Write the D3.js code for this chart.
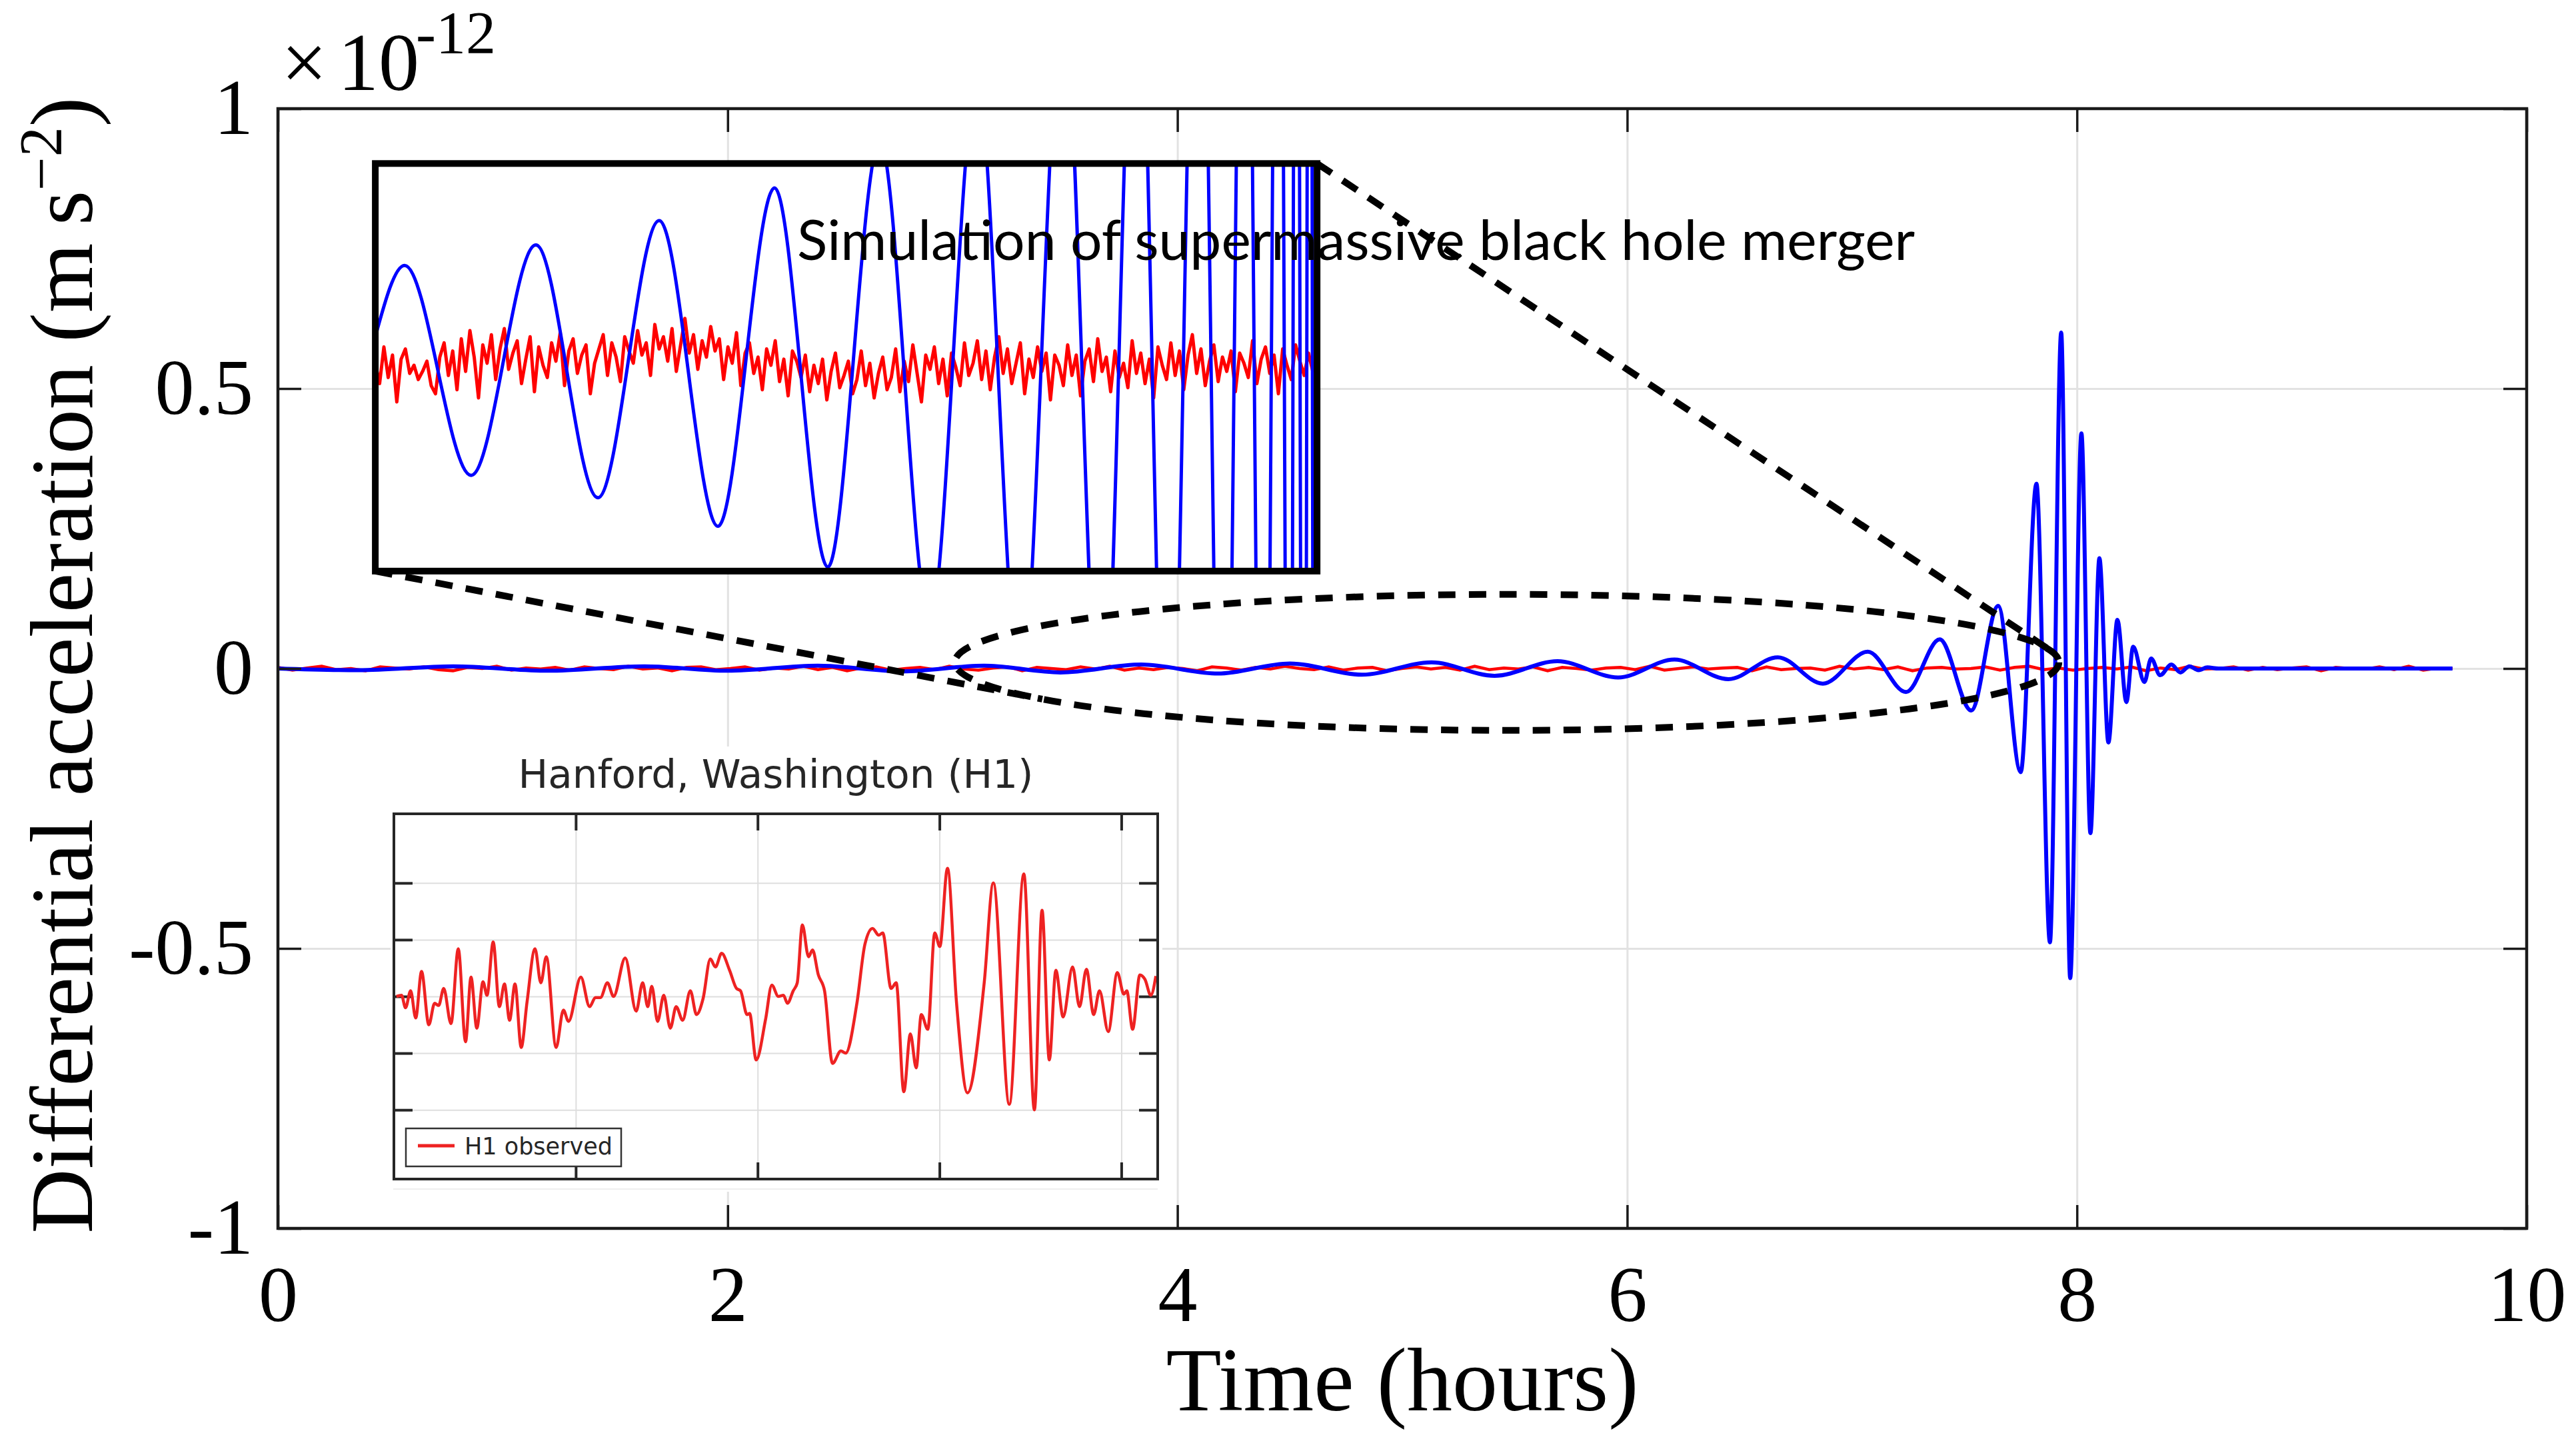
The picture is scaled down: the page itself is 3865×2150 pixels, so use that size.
<!DOCTYPE html>
<html>
<head>
<meta charset="utf-8">
<script src="https://cdn.jsdelivr.net/npm/d3@7"></script>
<style>
  html, body { margin: 0; padding: 0; background: #fff; }
  svg { display: block; }
</style>
</head>
<body>
<svg id="chart" width="3865" height="2150"></svg>
<script>
// ---------------- data ----------------
// main axes
const xTicks = [0, 2, 4, 6, 8, 10];
const xTickLabels = ["0", "2", "4", "6", "8", "10"];
const yTicks = [-1, -0.5, 0, 0.5, 1];
const yTickLabels = ["-1", "-0.5", "0", "0.5", "1"];

// simulated differential acceleration (units of 1e-12 m s^-2): turning points of the chirp
const chirpTime = [0, 0.36, 0.78, 1.20, 1.63, 2.00, 2.40, 2.78, 3.14, 3.48, 3.84, 4.18, 4.50, 4.82,
  5.13, 5.41, 5.69, 5.96, 6.21, 6.45, 6.67, 6.87, 7.07, 7.24, 7.39, 7.53, 7.65, 7.75, 7.82, 7.88,
  7.93, 7.97, 8.02, 8.06, 8.10, 8.14, 8.18, 8.22, 8.25, 8.30, 8.33, 8.37, 8.42, 8.46, 8.50, 8.54,
  8.58, 8.63, 9.67];
const chirpValue = [0, -0.003, 0.004, -0.004, 0.004, -0.004, 0.005, -0.005, 0.005, -0.007, 0.007,
  -0.009, 0.009, -0.011, 0.011, -0.013, 0.013, -0.016, 0.016, -0.019, 0.020, -0.027, 0.030, -0.042,
  0.052, -0.075, 0.112, -0.185, 0.330, -0.489, 0.600, -0.553, 0.420, -0.294, 0.197, -0.132, 0.087,
  -0.060, 0.039, -0.024, 0.018, -0.012, 0.007, -0.007, 0.004, -0.003, 0.002, 0, 0];

// background residual (same units), evenly sampled over the record
const residualStart = 0, residualEnd = 9.67;
const residualValue = [
  0.002,-0.003,0.001,0.004,-0.002,0.000,-0.004,0.003,0.001,-0.001,
  0.003,-0.002,-0.004,0.002,0.000,0.004,-0.003,0.001,-0.001,0.002,
  -0.003,0.003,0.000,-0.002,0.004,-0.001,0.001,-0.004,0.002,0.003,
  -0.002,0.000,0.003,-0.003,0.001,-0.001,0.004,-0.002,0.002,-0.004,
  0.001,0.003,-0.003,0.000,0.002,-0.002,0.004,-0.001,-0.003,0.001,
  0.003,-0.004,0.002,0.000,-0.002,0.003,-0.001,0.004,-0.003,0.001,
  -0.002,0.002,0.000,-0.004,0.003,0.001,-0.003,0.002,-0.001,0.004,
  0.000,-0.002,0.003,-0.003,0.001,0.002,-0.004,0.000,0.003,-0.001,
  0.002,-0.003,0.004,-0.002,0.001,-0.001,0.003,-0.004,0.002,0.000,
  -0.003,0.001,0.002,-0.002,0.004,-0.003,0.000,0.003,-0.001,0.001,
  0.002,-0.004,0.003,-0.002,0.000,0.001,-0.003,0.004,-0.001,0.002,
  -0.002,0.003,-0.004,0.001,0.002,-0.001,0.000,0.003,-0.003,0.002,
  0.004,-0.002,0.001,-0.003,0.000,0.002,-0.001,0.003,-0.004,0.001,
  -0.002,0.004,-0.001,0.000,0.003,-0.003,0.002,-0.002,0.001,0.003,
  -0.004,0.002,0.000,-0.001,0.003,-0.002,0.004,-0.003,0.001,0.000];

// highlighted stretch of the record (hours, 1e-12 m s^-2)
const zoomCenter = [5.465, 0.011];
const zoomRadius = [2.455, 0.1215];
// magnified panel placement (hours, 1e-12 m s^-2)
const panelTime = [0.433, 4.621];
const panelValue = [0.174, 0.902];

// magnified chirp (panel units)
const panelDomainTime = [3.0, 7.92];
const panelDomainValue = [-1, 1];
const panelChirpTime = [3.000, 3.153, 3.501, 3.839, 4.163, 4.483, 4.790, 5.086, 5.364, 5.636,
  5.897, 6.144, 6.371, 6.594, 6.796, 6.980, 7.144, 7.304, 7.433, 7.544, 7.642, 7.722, 7.777,
  7.812, 7.851, 7.882, 7.910, 7.935];
const panelChirpValue = [0.15, 0.50, -0.53, 0.60, -0.64, 0.72, -0.78, 0.88, -0.98, 1.11, -1.25,
  1.40, -1.60, 1.80, -2.00, 2.30, -2.60, 2.90, -3.20, 3.50, -3.80, 4.10, -4.40, 4.70, -5.00,
  5.30, -5.60, 5.90];
const panelNoise = [
  0.02,-0.08,0.10,-0.05,0.06,-0.17,0.04,0.09,-0.03,0.01,-0.06,-0.02,0.03,-0.09,-0.13,0.05,0.12,-0.04,0.08,-0.11,
  0.14,-0.02,0.18,0.05,-0.15,0.11,0.02,0.16,-0.06,0.09,0.19,-0.01,0.07,0.13,-0.08,0.04,0.15,-0.12,0.10,0.01,
  -0.05,0.12,0.03,0.17,-0.09,0.08,0.14,-0.03,0.06,0.11,-0.13,0.02,0.09,0.16,-0.04,0.12,0.05,-0.07,0.15,0.08,
  0.02,0.18,0.06,0.12,-0.04,0.21,0.09,0.15,0.03,0.19,-0.02,0.11,0.24,0.07,0.16,-0.01,0.13,0.05,0.20,0.08,
  0.14,-0.06,0.10,0.02,0.17,-0.09,0.07,0.12,-0.03,0.05,-0.11,0.09,0.01,0.13,-0.07,0.04,-0.14,0.08,0.03,-0.05,
  0.06,-0.12,0.01,-0.08,0.04,-0.16,-0.02,0.07,-0.10,-0.04,0.03,-0.13,-0.06,0.08,-0.09,0.02,-0.15,-0.03,0.05,-0.11,
  -0.05,0.09,-0.12,0.03,-0.07,0.11,-0.03,-0.17,0.06,-0.01,0.10,-0.08,0.04,-0.14,0.07,0.00,-0.09,0.12,-0.04,0.02,
  0.13,-0.06,0.08,-0.11,0.05,0.15,-0.03,0.09,-0.08,0.02,0.12,-0.13,0.04,-0.05,0.10,-0.02,0.07,-0.16,0.06,0.01,
  -0.09,0.11,-0.04,0.06,-0.14,0.03,0.09,-0.07,0.14,-0.02,0.05,-0.12,0.08,-0.05,0.02,-0.10,0.13,-0.03,0.07,-0.08,
  0.04,-0.15,0.10,0.01,-0.06,0.12,-0.04,0.08,-0.11,0.06,0.16,-0.03,0.09,-0.09,0.03,0.11,-0.07,0.05,-0.02,0.08,
  -0.12,0.07,0.02,-0.05,0.13,-0.08,0.04,0.10,-0.03,0.06,-0.13,0.09,0.01,-0.06,0.11,0.03,-0.04,0.07,-0.02,0.05];

// Hanford H1 strain (time in s, strain in 1e-21)
const h1Domain = [0.25, 0.46];
const h1StrainDomain = [-1.61, 1.61];
const h1TimeTicks = [0.30, 0.35, 0.40, 0.45];
const h1StrainTicks = [-1.0, -0.5, 0.0, 0.5, 1.0];
const h1Time = [0.2507,0.2521,0.2532,0.2546,0.2560,0.2576,0.2596,0.2612,0.2623,0.2637,0.2657,0.2677,
  0.2697,0.2712,0.2728,0.2745,0.2756,0.2773,0.2790,0.2804,0.2818,0.2833,0.2850,0.2866,0.2888,0.2904,
  0.2919,0.2946,0.2966,0.2980,0.3014,0.3038,0.3054,0.3068,0.3087,0.3104,0.3136,0.3166,0.3184,0.3198,
  0.3209,0.3225,0.3242,0.3260,0.3276,0.3294,0.3315,0.3332,0.3350,0.3370,0.3384,0.3401,0.3423,0.3442,
  0.3453,0.3471,0.3478,0.3496,0.3522,0.3539,0.3557,0.3571,0.3582,0.3598,0.3609,0.3623,0.3640,0.3651,
  0.3667,0.3684,0.3706,0.3729,0.3742,0.3773,0.3795,0.3816,0.3833,0.3844,0.3867,0.3881,0.3902,0.3920,
  0.3936,0.3950,0.3968,0.3987,0.4001,0.4022,0.4047,0.4077,0.4123,0.4148,0.4192,0.4232,0.4261,0.4282,
  0.4302,0.4320,0.4340,0.4366,0.4385,0.4404,0.4424,0.4440,0.4464,0.4489,0.4507,0.4515,0.4531,0.4551,
  0.4565,0.4581,0.4595];
const h1Strain = [0.00,0.01,-0.10,0.05,-0.19,0.22,-0.25,-0.06,-0.08,0.07,-0.24,0.42,
  -0.40,0.17,-0.28,0.13,0.01,0.48,-0.09,0.11,-0.21,0.11,-0.45,-0.05,0.42,0.12,
  0.35,-0.45,-0.12,-0.22,0.17,-0.09,-0.01,-0.01,0.12,0.00,0.34,-0.13,0.12,-0.09,
  0.09,-0.22,0.01,-0.28,-0.09,-0.21,0.05,-0.16,-0.02,0.33,0.26,0.38,0.23,0.07,
  0.05,-0.16,-0.15,-0.56,-0.20,0.10,0.00,0.01,-0.06,0.05,0.12,0.63,0.35,0.41,
  0.19,0.05,-0.59,-0.48,-0.50,-0.06,0.46,0.60,0.54,0.56,0.07,0.12,-0.84,-0.33,
  -0.63,-0.16,-0.29,0.56,0.44,1.13,-0.06,-0.85,0.12,1.00,-0.95,1.08,-1.00,0.76,
  -0.56,0.23,-0.18,0.26,-0.09,0.24,-0.16,0.05,-0.31,0.21,0.02,0.05,-0.29,0.19,
  0.15,0.01,0.18];

// ---------------- layout ----------------
const svg = d3.select("#chart");
const W = 3865, H = 2150;
const plot = { left: 417, right: 3791, top: 163, bottom: 1843 };
const serif = "'Liberation Serif', 'Times New Roman', serif";
const sans = "'DejaVu Sans', sans-serif";

svg.append("rect").attr("width", W).attr("height", H).attr("fill", "#fff");

const x = d3.scaleLinear().domain([0, 10]).range([plot.left, plot.right]);
const y = d3.scaleLinear().domain([-1, 1]).range([plot.bottom, plot.top]);

// grid
svg.append("g")
  .attr("transform", `translate(0,${plot.bottom})`)
  .call(d3.axisBottom(x).tickValues(xTicks).tickSize(-(plot.bottom - plot.top)).tickFormat(""))
  .call(g => g.select(".domain").remove())
  .call(g => g.selectAll("line").attr("stroke", "#e2e2e2").attr("stroke-width", 3));
svg.append("g")
  .attr("transform", `translate(${plot.left},0)`)
  .call(d3.axisLeft(y).tickValues(yTicks).tickSize(-(plot.right - plot.left)).tickFormat(""))
  .call(g => g.select(".domain").remove())
  .call(g => g.selectAll("line").attr("stroke", "#e2e2e2").attr("stroke-width", 3));

// traces
const residual = residualValue.map((v, i) => [
  residualStart + (residualEnd - residualStart) * i / (residualValue.length - 1), v]);
const chirp = chirpTime.map((t, i) => [t, chirpValue[i]]);

svg.append("path")
  .datum(residual)
  .attr("fill", "none").attr("stroke", "#ff0000").attr("stroke-width", 4.5)
  .attr("d", d3.line().x(d => x(d[0])).y(d => y(d[1])));
svg.append("path")
  .datum(chirp)
  .attr("fill", "none").attr("stroke", "#0000ff").attr("stroke-width", 6)
  .attr("stroke-linejoin", "round")
  .attr("d", d3.line().x(d => x(d[0])).y(d => y(d[1])).curve(d3.curveMonotoneX));

// axes ticks on all four sides (pointing inward)
const tickLen = 35;
const styleAxis = g => {
  g.select(".domain").remove();
  g.selectAll(".tick line").attr("stroke", "#1a1a1a").attr("stroke-width", 3.5);
  g.selectAll("text").attr("font-family", serif).attr("font-size", 118).attr("fill", "#000");
};
svg.append("g")
  .attr("transform", `translate(0,${plot.bottom})`)
  .call(d3.axisBottom(x).tickValues(xTicks).tickSize(-tickLen).tickPadding(55)
    .tickFormat((d, i) => xTickLabels[i]))
  .call(styleAxis);
svg.append("g")
  .attr("transform", `translate(0,${plot.top})`)
  .call(d3.axisTop(x).tickValues(xTicks).tickSize(-tickLen).tickFormat(""))
  .call(styleAxis);
svg.append("g")
  .attr("transform", `translate(${plot.left},0)`)
  .call(d3.axisLeft(y).tickValues(yTicks).tickSize(-tickLen).tickPadding(37)
    .tickFormat((d, i) => yTickLabels[i]))
  .call(styleAxis);
svg.append("g")
  .attr("transform", `translate(${plot.right},0)`)
  .call(d3.axisRight(y).tickValues(yTicks).tickSize(-tickLen).tickFormat(""))
  .call(styleAxis);

// frame
svg.append("rect")
  .attr("x", plot.left).attr("y", plot.top)
  .attr("width", plot.right - plot.left).attr("height", plot.bottom - plot.top)
  .attr("fill", "none").attr("stroke", "#1a1a1a").attr("stroke-width", 4.5);

// exponent
const expo = svg.append("g").attr("font-family", serif).attr("fill", "#000");
expo.append("text").attr("x", 422).attr("y", 135).attr("font-size", 122).text("\u00d7");
expo.append("text").attr("x", 507).attr("y", 135).attr("font-size", 122).text("10");
expo.append("text").attr("x", 624).attr("y", 80).attr("font-size", 90).text("-12");

// axis titles
svg.append("text")
  .attr("x", (plot.left + plot.right) / 2).attr("y", 2116)
  .attr("text-anchor", "middle").attr("font-family", serif).attr("font-size", 136)
  .text("Time (hours)");
const ylab = svg.append("text")
  .attr("transform", `translate(138,998) rotate(-90)`)
  .attr("text-anchor", "middle").attr("font-family", serif).attr("font-size", 134);
ylab.append("tspan").text("Differential acceleration (m\u2009s");
ylab.append("tspan").attr("dy", -46).attr("font-size", 90).text("\u22122");
ylab.append("tspan").attr("dy", 46).text(")");

// ---------------- magnified panel ----------------
const fx0 = x(panelTime[0]), fx1 = x(panelTime[1]);
const fy0 = y(panelValue[1]), fy1 = y(panelValue[0]);

// dashed highlight ellipse + connector lines (tangent to the ellipse)
const ecx = x(zoomCenter[0]), ecy = y(zoomCenter[1]);
const erx = x(zoomCenter[0] + zoomRadius[0]) - ecx;
const ery = ecy - y(zoomCenter[1] + zoomRadius[1]);
function tangentPoints(px, py) {
  const u = (px - ecx) / erx, w = (py - ecy) / ery;
  const r = Math.hypot(u, w), phi = Math.atan2(w, u), a = Math.acos(1 / r);
  return [phi + a, phi - a].map(t => [ecx + erx * Math.cos(t), ecy + ery * Math.sin(t)]);
}
const lowerTan = tangentPoints(fx0, fy1).sort((a, b) => b[1] - a[1])[0];
const upperTan = tangentPoints(fx1, fy0).sort((a, b) => b[0] - a[0])[0];

const dash = svg.append("g").attr("fill", "none").attr("stroke", "#000")
  .attr("stroke-width", 10).attr("stroke-dasharray", "26 20");
dash.append("ellipse").attr("cx", ecx).attr("cy", ecy).attr("rx", erx).attr("ry", ery);
dash.append("line").attr("x1", fx0).attr("y1", fy1).attr("x2", lowerTan[0]).attr("y2", lowerTan[1]);
dash.append("line").attr("x1", fx1).attr("y1", fy0).attr("x2", upperTan[0]).attr("y2", upperTan[1]);

// panel body
svg.append("rect").attr("x", fx0).attr("y", fy0).attr("width", fx1 - fx0).attr("height", fy1 - fy0)
  .attr("fill", "#fff");
svg.append("clipPath").attr("id", "panelClip")
  .append("rect").attr("x", fx0).attr("y", fy0).attr("width", fx1 - fx0).attr("height", fy1 - fy0);

const px = d3.scaleLinear().domain(panelDomainTime).range([fx0, fx1]);
const py = d3.scaleLinear().domain(panelDomainValue).range([fy1, fy0]);
const panel = svg.append("g").attr("clip-path", "url(#panelClip)");
const noiseSeries = panelNoise.map((v, i) => [
  panelDomainTime[0] + (panelDomainTime[1] - panelDomainTime[0]) * i / (panelNoise.length - 1), v]);
panel.append("path").datum(noiseSeries)
  .attr("fill", "none").attr("stroke", "#ff0000").attr("stroke-width", 5)
  .attr("stroke-linejoin", "round")
  .attr("d", d3.line().x(d => px(d[0])).y(d => py(d[1])));
panel.append("path").datum(panelChirpTime.map((t, i) => [t, panelChirpValue[i]]))
  .attr("fill", "none").attr("stroke", "#0000ff").attr("stroke-width", 5)
  .attr("d", d3.line().x(d => px(d[0])).y(d => py(d[1])).curve(d3.curveMonotoneX));
svg.append("rect").attr("x", fx0).attr("y", fy0).attr("width", fx1 - fx0).attr("height", fy1 - fy0)
  .attr("fill", "none").attr("stroke", "#000").attr("stroke-width", 10);

svg.append("text")
  .attr("x", 1196).attr("y", 390)
  .attr("font-family", "Lato, 'Open Sans', sans-serif").attr("font-size", 84).attr("fill", "#000")
  .text("Simulation of supermassive black hole merger");

// ---------------- Hanford H1 panel ----------------
const hx = d3.scaleLinear().domain(h1Domain).range([591, 1737]);
const hy = d3.scaleLinear().domain(h1StrainDomain).range([1769, 1221]);
const [hx0, hx1] = hx.range(), [hy1, hy0] = hy.range();

svg.append("rect").attr("x", 586).attr("y", 1120).attr("width", 1158).attr("height", 668)
  .attr("fill", "#fff");
svg.append("line").attr("x1", 590).attr("x2", 1737).attr("y1", 1784).attr("y2", 1784)
  .attr("stroke", "#eeeeee").attr("stroke-width", 2);

const h1 = svg.append("g");
h1.append("g").attr("transform", `translate(0,${hy1})`)
  .call(d3.axisBottom(hx).tickValues(h1TimeTicks).tickSize(-(hy1 - hy0)).tickFormat(""))
  .call(g => g.select(".domain").remove())
  .call(g => g.selectAll("line").attr("stroke", "#dedede").attr("stroke-width", 2));
h1.append("g").attr("transform", `translate(${hx0},0)`)
  .call(d3.axisLeft(hy).tickValues(h1StrainTicks).tickSize(-(hx1 - hx0)).tickFormat(""))
  .call(g => g.select(".domain").remove())
  .call(g => g.selectAll("line").attr("stroke", "#dedede").attr("stroke-width", 2));

const h1Ticks = g => {
  g.select(".domain").remove();
  g.selectAll("line").attr("stroke", "#262626").attr("stroke-width", 4);
};
h1.append("g").attr("transform", `translate(0,${hy0})`)
  .call(d3.axisTop(hx).tickValues(h1TimeTicks).tickSize(-25).tickFormat("")).call(h1Ticks);
h1.append("g").attr("transform", `translate(0,${hy1})`)
  .call(d3.axisBottom(hx).tickValues(h1TimeTicks).tickSize(-25).tickFormat("")).call(h1Ticks);
h1.append("g").attr("transform", `translate(${hx1},0)`)
  .call(d3.axisRight(hy).tickValues(h1StrainTicks).tickSize(-28).tickFormat("")).call(h1Ticks);
h1.append("g").attr("transform", `translate(${hx0},0)`)
  .call(d3.axisLeft(hy).tickValues(h1StrainTicks).tickSize(-28).tickFormat("")).call(h1Ticks);

h1.append("path").datum(h1Time.map((t, i) => [t, h1Strain[i]]))
  .attr("fill", "none").attr("stroke", "#ee2222").attr("stroke-width", 4.5)
  .attr("stroke-linejoin", "round")
  .attr("d", d3.line().x(d => hx(d[0])).y(d => hy(d[1])).curve(d3.curveMonotoneX));

h1.append("rect").attr("x", hx0).attr("y", hy0).attr("width", hx1 - hx0).attr("height", hy1 - hy0)
  .attr("fill", "none").attr("stroke", "#262626").attr("stroke-width", 4);

h1.append("text").attr("x", (hx0 + hx1) / 2).attr("y", 1182)
  .attr("text-anchor", "middle").attr("font-family", sans).attr("font-size", 59.5).attr("fill", "#262626")
  .text("Hanford, Washington (H1)");

// legend
const leg = h1.append("g");
leg.append("rect").attr("x", 609).attr("y", 1693).attr("width", 323).attr("height", 57)
  .attr("fill", "#fff").attr("stroke", "#333").attr("stroke-width", 2.5);
leg.append("line").attr("x1", 627).attr("x2", 682).attr("y1", 1719).attr("y2", 1719)
  .attr("stroke", "#ee2222").attr("stroke-width", 5);
leg.append("text").attr("x", 697).attr("y", 1732).attr("font-family", sans).attr("font-size", 35)
  .attr("fill", "#262626").text("H1 observed");
</script>
</body>
</html>
